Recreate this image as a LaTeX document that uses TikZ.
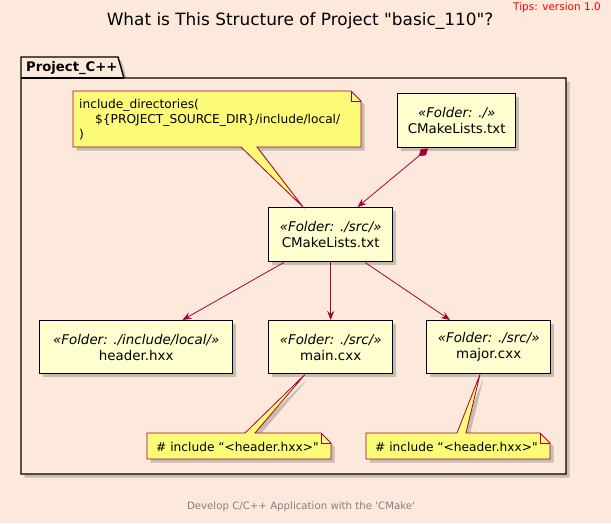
\documentclass[tikz,border=0pt]{standalone}
\usepackage{fontspec}
\setmainfont{DejaVu Sans}[Ligatures=TeXOff]
\usetikzlibrary{shadows,arrows.meta,calc}
\definecolor{bgc}{HTML}{FDE9DC}
\definecolor{nodefill}{HTML}{FEFECE}
\definecolor{notefill}{HTML}{FBFB77}
\definecolor{crim}{HTML}{A80036}
\tikzset{
  shadowed/.style={drop shadow={shadow xshift=3.5pt,shadow yshift=-3.5pt,opacity=0.35,fill=black!60}},
  filebox/.style={draw=black,line width=1.4pt,fill=nodefill,shadowed,anchor=north west,
    align=center,inner sep=0pt,font=\fontsize{13.4}{16}\selectfont},
  notetext/.style={anchor=north west,inner sep=0pt,align=left,font=\fontsize{12.2}{15}\selectfont},
  noteshape/.style={draw=crim,line width=0.8pt,fill=notefill,line join=miter},
  conn/.style={draw=crim,line width=0.8pt,-{Stealth[length=9pt,width=7pt,inset=3pt]}},
}
\begin{document}
\begin{tikzpicture}[x=1pt,y=-1pt]
\fill[bgc] (0,0) rectangle (611,523);
\useasboundingbox (0,0) rectangle (611,523);
% title and tips
\node[font=\fontsize{16.9}{20}\selectfont] (title) at (300,21) {What is This Structure of Project "basic\_110"?};
\node[font=\fontsize{10.5}{12}\selectfont,text=red,anchor=east,inner sep=0pt] (tips) at (601,8) {Tips: version 1.0};
% package
\path[draw=black,fill=bgc,line width=1.4pt,shadowed] (21,78) -- (21,57) -- (118,57) -- (124,78) -- (566,78) -- (566,474) -- (21,474) -- cycle;
\draw[black,line width=1.4pt] (21,78) -- (124,78);
\node[font=\bfseries\fontsize{13.2}{16}\selectfont,anchor=west,inner sep=0pt] (pkg) at (26,68) {Project\_C++};
% file nodes
\node[filebox,minimum width=118pt,minimum height=54pt] (top) at (397,93) {\itshape «Folder: ./»\\CMakeLists.txt};
\node[filebox,minimum width=124pt,minimum height=54pt] (mid) at (268,207) {\itshape «Folder: ./src/»\\CMakeLists.txt};
\node[filebox,minimum width=193pt,minimum height=53pt] (hdr) at (39,320) {\itshape «Folder: ./include/local/»\\header.hxx};
\node[filebox,minimum width=124pt,minimum height=53pt] (mainc) at (268,320) {\itshape «Folder: ./src/»\\main.cxx};
\node[filebox,minimum width=124pt,minimum height=53pt] (major) at (426,320) {\itshape «Folder: ./src/»\\major.cxx};
% connectors
\draw[conn,{Diamond[length=12pt,width=8pt]}-{Stealth[length=9pt,width=7pt,inset=3pt]}] ($(top.south west)+(31,0)$) -- ($(mid.north west)+(89.5,0)$);
\draw[conn] ($(mid.south west)+(16,0)$) -- ($(hdr.north west)+(143.5,0)$);
\draw[conn] (mid.south) -- (mainc.north);
\draw[conn] ($(mid.south west)+(97,0)$) -- ($(major.north west)+(24,0)$);
% note 1
\coordinate (n1) at (73,91);
\coordinate (p1) at ($(mid.north west)+(35,0)$);
\path[noteshape,shadowed] (n1) -- ++(278,0) -- ++(10,10) -- ++(0,46) -- ($(n1)+(184,56)$) -- (p1) -- ($(n1)+(168,56)$) -- ($(n1)+(0,56)$) -- cycle;
\draw[crim,line width=0.8pt] ($(n1)+(278,0)$) -- ++(0,10) -- ++(10,0);
\node[notetext] (note1) at (79,99) {include\_directories(\\\hspace*{16pt}\$\{PROJECT\_SOURCE\_DIR\}/include/local/\\)};
% note 2
\coordinate (n2) at (147,433);
\coordinate (p2) at ($(mainc.south west)+(37,0)$);
\path[noteshape,shadowed] (n2) -- ($(n2)+(98,0)$) -- (p2) -- ($(n2)+(108,0)$) -- ++(66,0) -- ++(10,10) -- ++(0,16) -- ($(n2)+(0,26)$) -- cycle;
\draw[crim,line width=0.8pt] ($(n2)+(174,0)$) -- ++(0,10) -- ++(10,0);
\node[notetext,anchor=west] (note2) at (156,447) {\# include “<header.hxx>"};
% note 3
\coordinate (n3) at (366,433);
\coordinate (p3) at ($(major.south west)+(54,0)$);
\path[noteshape,shadowed] (n3) -- ($(n3)+(91,0)$) -- (p3) -- ($(n3)+(100,0)$) -- ++(74,0) -- ++(10,10) -- ++(0,16) -- ($(n3)+(0,26)$) -- cycle;
\draw[crim,line width=0.8pt] ($(n3)+(174,0)$) -- ++(0,10) -- ++(10,0);
\node[notetext,anchor=west] (note3) at (375,447) {\# include “<header.hxx>"};
% footer
\node[font=\fontsize{10.2}{12}\selectfont,text=black!50] (foot) at (301,507) {Develop C/C++ Application with the 'CMake'};
\end{tikzpicture}
\end{document}
